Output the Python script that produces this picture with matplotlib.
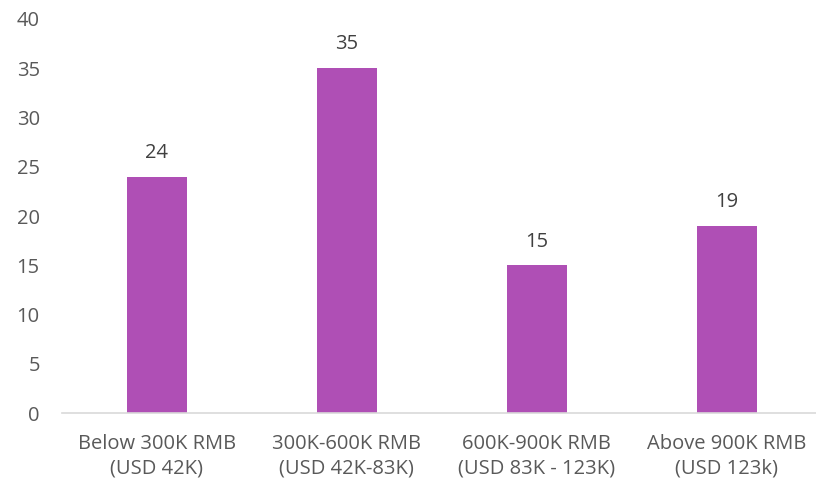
import numpy as np
import matplotlib.pyplot as plt

plt.rcParams['font.family'] = ['Open Sans', 'DejaVu Sans']

categories = ['Below 300K RMB\n(USD 42K)', '300K-600K RMB\n(USD 42K-83K)',
              '600K-900K RMB\n(USD 83K - 123K)', 'Above 900K RMB\n(USD 123k)']
values = [24, 35, 15, 19]

bar_color = '#AF4FB5'
text_color = '#595959'

fig = plt.figure(figsize=(8.16, 4.86), dpi=100)
ax = fig.add_axes([0.076, 0.150, 0.931, 0.811])

x = np.arange(len(categories))
ax.bar(x, values, width=0.316, color=bar_color, zorder=2)

for xi, v in zip(x, values):
    ax.text(xi, v + 1.4, str(v), ha='center', va='bottom', fontsize=14.5, color='#404040')

ax.set_xlim(-0.5, len(categories) - 0.5)
ax.set_ylim(0, 40)
ax.set_yticks(np.arange(0, 41, 5))
ax.set_xticks(x)
ax.set_xticklabels(categories, fontsize=14.5, color=text_color, linespacing=1.3)
ax.tick_params(axis='y', labelsize=14.5, labelcolor=text_color, length=0, pad=16)
ax.tick_params(axis='x', length=0, pad=15)

for s in ['top', 'right', 'left']:
    ax.spines[s].set_visible(False)
ax.spines['bottom'].set_color('#D9D9D9')
ax.spines['bottom'].set_linewidth(1.2)

fig.savefig('out.png', dpi=100)
